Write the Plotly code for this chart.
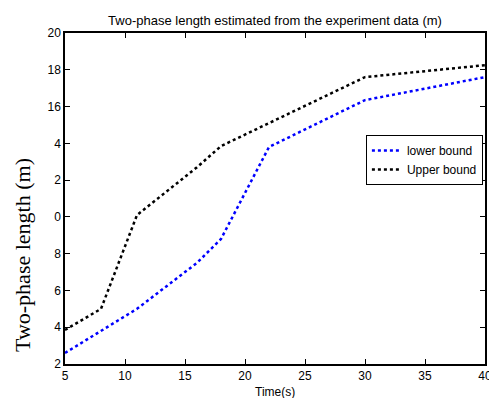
import plotly.graph_objects as go

time_s = [5, 8, 11, 16, 18, 22, 30, 40]
lower_bound = [2.6, 3.8, 5.0, 7.5, 8.8, 13.8, 16.35, 17.6]
upper_bound = [3.85, 5.0, 10.1, 12.7, 13.85, 15.1, 17.6, 18.25]

y_tickvals = [2, 4, 6, 8, 10, 12, 14, 16, 18, 20]
y_ticktext = ["2", "4", "6", "8", "0", "2", "4", "16", "18", "20"]
x_tickvals = [5, 10, 15, 20, 25, 30, 35, 40]

W, H = 489, 398
L, R, T, B = 65, 4, 33, 34

fig = go.Figure()
fig.add_trace(go.Scatter(x=time_s, y=lower_bound, mode="lines", name="lower bound",
                         line=dict(color="#0000ff", width=2.5, dash="dot")))
fig.add_trace(go.Scatter(x=time_s, y=upper_bound, mode="lines", name="Upper bound",
                         line=dict(color="#000000", width=2.5, dash="dot")))

axis_common = dict(showline=True, linecolor="black", linewidth=1.5, mirror="ticks",
                   ticks="inside", ticklen=5, tickcolor="black", tickwidth=1,
                   showgrid=False, zeroline=False, automargin=False,
                   tickfont=dict(family="Liberation Sans", size=12, color="black"))

fig.update_layout(
    width=W, height=H,
    margin=dict(l=L, r=R, t=T, b=B, autoexpand=False),
    paper_bgcolor="white", plot_bgcolor="white",
    title=dict(text="Two-phase length estimated from the experiment data (m)",
               x=(L + (W - L - R) / 2) / W, xanchor="center",
               y=1 - 20 / H, yanchor="middle", yref="container",
               font=dict(family="Liberation Sans", size=13, color="black")),
    xaxis=dict(range=[5, 40], tickvals=x_tickvals, ticklabeloverflow="allow", **axis_common),
    yaxis=dict(range=[2, 20], tickvals=y_tickvals, ticktext=y_ticktext, **axis_common),
    legend=dict(x=0.995, xanchor="right", y=0.692, yanchor="top",
                bgcolor="white", bordercolor="black", borderwidth=1,
                font=dict(family="Liberation Sans", size=12, color="black"),
                tracegroupgap=0, itemwidth=30),
    showlegend=True,
)

plot_h = H - T - B
fig.add_annotation(text="Two-phase length (m)", textangle=-90, showarrow=False,
                   xref="paper", yref="paper",
                   x=(22 - L) / (W - L - R), y=(H - B - 255) / plot_h,
                   xanchor="center", yanchor="middle",
                   font=dict(family="Liberation Serif", size=22, color="black"))
fig.add_annotation(text="Time(s)", showarrow=False,
                   xref="paper", yref="paper",
                   x=0.5, y=(H - B - 392) / plot_h,
                   xanchor="center", yanchor="middle",
                   font=dict(family="Liberation Sans", size=12, color="black"))

fig.write_html("out.html")
